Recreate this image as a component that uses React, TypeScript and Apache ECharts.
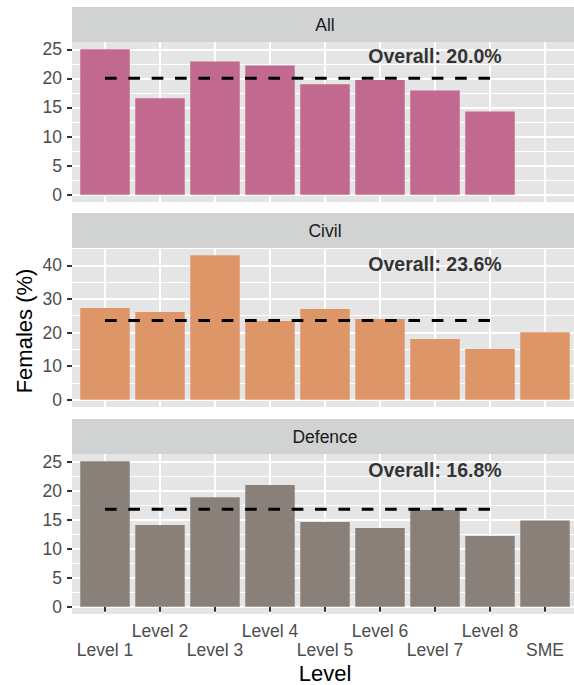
import React, { useEffect, useRef } from "react";
import * as echarts from "echarts";

const categories = ["Level 1", "Level 2", "Level 3", "Level 4", "Level 5", "Level 6", "Level 7", "Level 8", "SME"];
const panelNames = ["All", "Civil", "Defence"];
const allValues: (number | null)[] = [25.0, 16.6, 22.9, 22.2, 19.0, 19.7, 17.9, 14.3, null];
const civilValues: (number | null)[] = [27.3, 26.1, 43.0, 23.4, 27.0, 24.0, 18.1, 15.1, 20.1];
const defenceValues: (number | null)[] = [25.1, 14.1, 18.9, 21.0, 14.6, 13.6, 16.7, 12.2, 14.9];
const overallValues = [20.0, 23.6, 16.8];
const overallLabelY = [23.8, 40.4, 23.6];
const overallLabelCategory = 7; // "Level 7"
const overallLineFrom = 1;
const overallLineTo = 8;
const majorTicks = [
  [0, 5, 10, 15, 20, 25],
  [0, 10, 20, 30, 40],
  [0, 5, 10, 15, 20, 25],
];
const minorTicks = [
  [2.5, 7.5, 12.5, 17.5, 22.5],
  [5, 15, 25, 35, 45],
  [2.5, 7.5, 12.5, 17.5, 22.5],
];
const panelColors = ["#C2698F", "#DE9669", "#8A807A"];

const FONT = "'Liberation Sans', Arial, Helvetica, sans-serif";

export default function App() {
  const ref = useRef<HTMLDivElement>(null);
  useEffect(() => {
    document.body.style.margin = "0";
    if (!ref.current) return;
    const chart = echarts.init(ref.current, undefined, { renderer: "svg" });
    const seriesValues = [allValues, civilValues, defenceValues];
    const gridTops = [42, 248, 454];
    const gridHeights = [160, 159, 160];
    const stripTops = [7, 213, 419];
    const panelLeft = 72;
    const panelWidth = 506;
    const xs = categories.map((_, i) => i + 1);
    const upperRow = xs.filter((x) => x % 2 === 0);
    const lowerRow = xs.filter((x) => x % 2 === 1);

    const grids = gridTops.map((t, i) => ({
      left: panelLeft,
      top: t,
      width: panelWidth,
      height: gridHeights[i],
      show: true,
      backgroundColor: "#E5E5E5",
      borderWidth: 0,
      containLabel: false,
      outerBoundsMode: "none",
    }));

    const labelStyle = {
      color: "#4D4D4D",
      fontSize: 17.5,
      fontFamily: FONT,
      showMinLabel: true,
      showMaxLabel: true,
      hideOverlap: false,
      formatter: (v: number) => categories[Math.round(v) - 1] ?? "",
    };

    const xAxes: any[] = gridTops.map((_, i) => ({
      gridIndex: i,
      type: "value",
      position: "bottom",
      min: 0.4,
      max: 9.6,
      axisLine: { show: false },
      axisTick: {
        show: i === 2,
        customValues: xs,
        length: 5,
        lineStyle: { color: "#333333", width: 2 },
      },
      axisLabel: {
        ...labelStyle,
        show: i === 2,
        customValues: upperRow,
        margin: 8,
      },
      splitLine: { show: true, lineStyle: { color: "#FFFFFF", width: 2 } },
    }));
    // second row of the dodged labels on the bottom panel
    xAxes.push({
      gridIndex: 2,
      type: "value",
      position: "bottom",
      min: 0.4,
      max: 9.6,
      axisLine: { show: false },
      axisTick: { show: false, customValues: lowerRow },
      axisLabel: {
        ...labelStyle,
        show: true,
        customValues: lowerRow,
        margin: 27,
      },
      splitLine: { show: false },
    });

    const yAxes: any[] = [];
    seriesValues.forEach((vals, i) => {
      const maxV = Math.max(...(vals.filter((v) => v != null) as number[]));
      const lo = -0.05 * maxV;
      const hi = 1.05 * maxV;
      yAxes.push({
        gridIndex: i,
        type: "value",
        position: "left",
        min: lo,
        max: hi,
        axisLine: { show: false },
        axisTick: {
          show: true,
          customValues: majorTicks[i],
          length: 5,
          lineStyle: { color: "#333333", width: 2 },
        },
        axisLabel: {
          customValues: majorTicks[i],
          showMinLabel: true,
          showMaxLabel: true,
          color: "#4D4D4D",
          fontSize: 17.5,
          fontFamily: FONT,
          margin: 10,
        },
        splitLine: { show: true, lineStyle: { color: "#FFFFFF", width: 2 } },
      });
      yAxes.push({
        gridIndex: i,
        type: "value",
        position: "left",
        min: lo,
        max: hi,
        axisLine: { show: false },
        axisTick: { show: false, customValues: minorTicks[i] },
        axisLabel: { show: false, customValues: minorTicks[i] },
        splitLine: { show: true, lineStyle: { color: "#FFFFFF", width: 1 } },
      });
    });

    const series: any[] = [];
    seriesValues.forEach((vals, i) => {
      series.push({
        type: "bar",
        xAxisIndex: i,
        yAxisIndex: 2 * i,
        barWidth: 49.5,
        itemStyle: { color: panelColors[i] },
        data: vals
          .map((v, k) => (v == null ? null : [k + 1, v]))
          .filter((d) => d != null),
        z: 2,
      });
      series.push({
        type: "line",
        xAxisIndex: i,
        yAxisIndex: 2 * i,
        symbol: "none",
        lineStyle: { color: "#000000", width: 3, type: [11.67, 11.67], cap: "butt" },
        data: [
          [overallLineFrom, overallValues[i]],
          [overallLineTo, overallValues[i]],
        ],
        z: 3,
      });
      series.push({
        type: "scatter",
        xAxisIndex: i,
        yAxisIndex: 2 * i,
        symbolSize: 1,
        itemStyle: { color: "transparent" },
        label: {
          show: true,
          position: "inside",
          formatter: `Overall: ${overallValues[i].toFixed(1)}%`,
          color: "#000000",
          fontSize: 19.5,
          fontWeight: "bold",
          fontFamily: FONT,
        },
        data: [[overallLabelCategory, overallLabelY[i]]],
        z: 4,
      });
    });

    const graphics: any[] = [];
    stripTops.forEach((t, i) => {
      graphics.push({
        type: "rect",
        shape: { x: panelLeft, y: t, width: panelWidth, height: 35 },
        style: { fill: "#D1D2D2" },
      });
      graphics.push({
        type: "text",
        x: panelLeft + panelWidth / 2,
        y: t + 17.5,
        style: {
          text: panelNames[i],
          fill: "#1A1A1A",
          fontSize: 17.5,
          fontFamily: FONT,
          align: "center",
          verticalAlign: "middle",
        },
      });
    });
    graphics.push({
      type: "text",
      x: panelLeft + panelWidth / 2,
      y: 673,
      style: {
        text: "Level",
        fill: "#000000",
        fontSize: 22,
        fontFamily: FONT,
        align: "center",
        verticalAlign: "middle",
      },
    });
    graphics.push({
      type: "text",
      x: 24,
      y: 331,
      rotation: Math.PI / 2,
      style: {
        text: "Females (%)",
        fill: "#000000",
        fontSize: 22,
        fontFamily: FONT,
        align: "center",
        verticalAlign: "middle",
      },
    });

    chart.setOption({
      animation: false,
      backgroundColor: "#FFFFFF",
      grid: grids,
      xAxis: xAxes,
      yAxis: yAxes,
      series,
      graphic: graphics,
    });
    return () => chart.dispose();
  }, []);
  return <div ref={ref} style={{ width: 574, height: 685 }} />;
}
